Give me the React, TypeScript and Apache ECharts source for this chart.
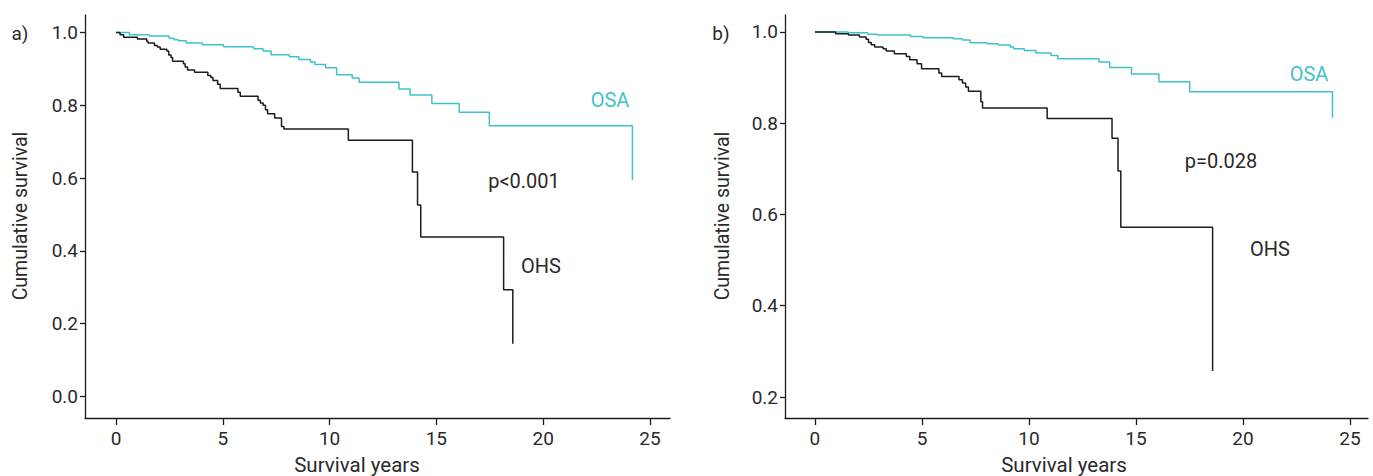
import React, { useEffect, useRef } from "react";
import * as echarts from "echarts";

// ---- data ----
const xTicks = [0, 5, 10, 15, 20, 25];
const yTicksA = [0, 0.2, 0.4, 0.6, 0.8, 1.0];
const yTicksB = [0.2, 0.4, 0.6, 0.8, 1.0];

// Panel a) OSA
const osaA_time = [0, 0.63, 1.56, 2.49, 2.72, 2.93, 3.29, 4.05, 5.04, 6.45, 6.89, 7.26, 8.12, 8.56, 9.11, 9.31, 9.81, 10.33, 11.06, 11.38, 13.25, 13.77, 14.79, 16.07, 17.48, 24.18];
const osaA_surv = [1.0, 0.994, 0.99, 0.984, 0.98, 0.977, 0.971, 0.966, 0.961, 0.955, 0.949, 0.939, 0.933, 0.926, 0.919, 0.912, 0.903, 0.884, 0.875, 0.863, 0.845, 0.828, 0.805, 0.781, 0.744, 0.595];
// Panel a) OHS
const ohsA_time = [0, 0.19, 0.36, 1.0, 1.44, 1.5, 1.8, 1.94, 2.07, 2.38, 2.47, 2.58, 2.65, 3.16, 3.24, 3.35, 3.68, 4.3, 4.44, 4.54, 4.76, 4.88, 5.71, 5.82, 6.65, 6.76, 6.89, 7.0, 7.1, 7.43, 7.75, 7.86, 10.88, 13.88, 14.12, 14.27, 18.15, 18.58];
const ohsA_surv = [1.0, 0.994, 0.987, 0.982, 0.976, 0.971, 0.964, 0.96, 0.954, 0.949, 0.938, 0.931, 0.921, 0.914, 0.905, 0.897, 0.891, 0.882, 0.876, 0.868, 0.858, 0.846, 0.836, 0.825, 0.814, 0.806, 0.8, 0.788, 0.777, 0.765, 0.742, 0.735, 0.704, 0.617, 0.526, 0.438, 0.293, 0.145];

// Panel b) OSA
const osaB_time = [0, 1.56, 2.46, 2.92, 4.46, 5.05, 6.46, 6.89, 7.25, 8.03, 8.56, 9.12, 9.28, 9.78, 10.33, 11.03, 11.35, 13.27, 13.77, 14.79, 16.07, 17.51, 24.18];
const osaB_surv = [1.0, 0.998, 0.995, 0.993, 0.99, 0.987, 0.985, 0.982, 0.976, 0.974, 0.971, 0.967, 0.963, 0.959, 0.954, 0.948, 0.941, 0.934, 0.922, 0.908, 0.891, 0.869, 0.812];
// Panel b) OHS
const ohsB_time = [0, 0.97, 1.56, 2.08, 2.39, 2.5, 2.63, 2.79, 3.18, 3.33, 3.71, 4.27, 4.43, 4.77, 4.98, 5.79, 5.92, 6.73, 6.89, 7.04, 7.17, 7.75, 7.83, 10.85, 13.88, 14.16, 14.29, 18.58];
const ohsB_surv = [1.0, 0.996, 0.993, 0.989, 0.984, 0.977, 0.972, 0.967, 0.963, 0.958, 0.952, 0.946, 0.939, 0.93, 0.919, 0.91, 0.902, 0.895, 0.888, 0.879, 0.87, 0.847, 0.833, 0.81, 0.767, 0.695, 0.572, 0.257];

const CYAN = "#3fc3c8";
const DARK = "#1c1c1c";
const TEXT = "#2a2a2a";
const FONT = "Roboto, 'Noto Sans', sans-serif";

const pairs = (t: number[], s: number[]) => t.map((v, i) => [v, s[i]]);

function xAxisCfg(gridIndex: number, min: number, max: number) {
  return {
    type: "value",
    gridIndex,
    min,
    max,
    splitLine: { show: false },
    axisLine: { show: true, onZero: false, lineStyle: { color: DARK, width: 1.3 } },
    axisTick: { show: true, length: 7, customValues: xTicks, lineStyle: { color: DARK, width: 1.3 } },
    axisLabel: {
      customValues: xTicks,
      margin: 11,
      color: TEXT,
      fontSize: 19,
      fontFamily: FONT,
    },
  };
}

function yAxisCfg(gridIndex: number, min: number, max: number, ticks: number[]) {
  return {
    type: "value",
    gridIndex,
    min,
    max,
    splitLine: { show: false },
    axisLine: { show: true, onZero: false, lineStyle: { color: DARK, width: 1.3 } },
    axisTick: { show: true, length: 5, customValues: ticks, lineStyle: { color: DARK, width: 1.3 } },
    axisLabel: {
      customValues: ticks,
      margin: 7,
      color: TEXT,
      fontSize: 19,
      fontFamily: FONT,
      formatter: (v: number) => v.toFixed(1),
    },
  };
}

function txt(x: number, y: number, text: string, opts: any = {}) {
  return {
    type: "text",
    x,
    y,
    rotation: opts.rotation || 0,
    style: {
      text,
      fill: opts.color || TEXT,
      fontSize: opts.size || 20,
      fontFamily: FONT,
      align: "center",
      verticalAlign: "middle",
    },
  };
}

function line(xi: number, data: number[][], color: string) {
  return {
    type: "line",
    xAxisIndex: xi,
    yAxisIndex: xi,
    step: "end",
    showSymbol: false,
    symbol: "none",
    data,
    lineStyle: { color, width: 1.5 },
    itemStyle: { color },
  };
}

export default function App() {
  const ref = useRef<HTMLDivElement>(null);
  useEffect(() => {
    if (!ref.current) return;
    const chart = echarts.init(ref.current, undefined, { renderer: "svg" });
    chart.setOption({
      animation: false,
      backgroundColor: "#ffffff",
      grid: [
        { left: 85, top: 15, width: 585, height: 403 },
        { left: 785, top: 15, width: 583, height: 403 },
      ],
      xAxis: [xAxisCfg(0, -1.45, 25.94), xAxisCfg(1, -1.4, 25.84)],
      yAxis: [yAxisCfg(0, -0.059, 1.048, yTicksA), yAxisCfg(1, 0.154, 1.037, yTicksB)],
      series: [
        line(0, pairs(osaA_time, osaA_surv), CYAN),
        line(0, pairs(ohsA_time, ohsA_surv), DARK),
        line(1, pairs(osaB_time, osaB_surv), CYAN),
        line(1, pairs(ohsB_time, ohsB_surv), DARK),
      ],
      graphic: [
        txt(20, 33, "a)", { size: 19 }),
        txt(721, 33, "b)", { size: 19 }),
        txt(20, 216, "Cumulative survival", { rotation: Math.PI / 2, size: 19.5 }),
        txt(722, 216, "Cumulative survival", { rotation: Math.PI / 2, size: 19.5 }),
        txt(357, 465, "Survival years", { size: 20.5 }),
        txt(1064, 465, "Survival years", { size: 20.5 }),
        txt(610, 100, "OSA", { color: CYAN }),
        txt(524, 181, "p<0.001"),
        txt(541, 266, "OHS"),
        txt(1309, 74, "OSA", { color: CYAN }),
        txt(1221, 161, "p=0.028"),
        txt(1270, 249, "OHS"),
      ],
    });
    return () => chart.dispose();
  }, []);
  return (
    <div
      ref={ref}
      style={{ position: "fixed", left: 0, top: 0, width: 1373, height: 476, background: "#fff" }}
    />
  );
}
